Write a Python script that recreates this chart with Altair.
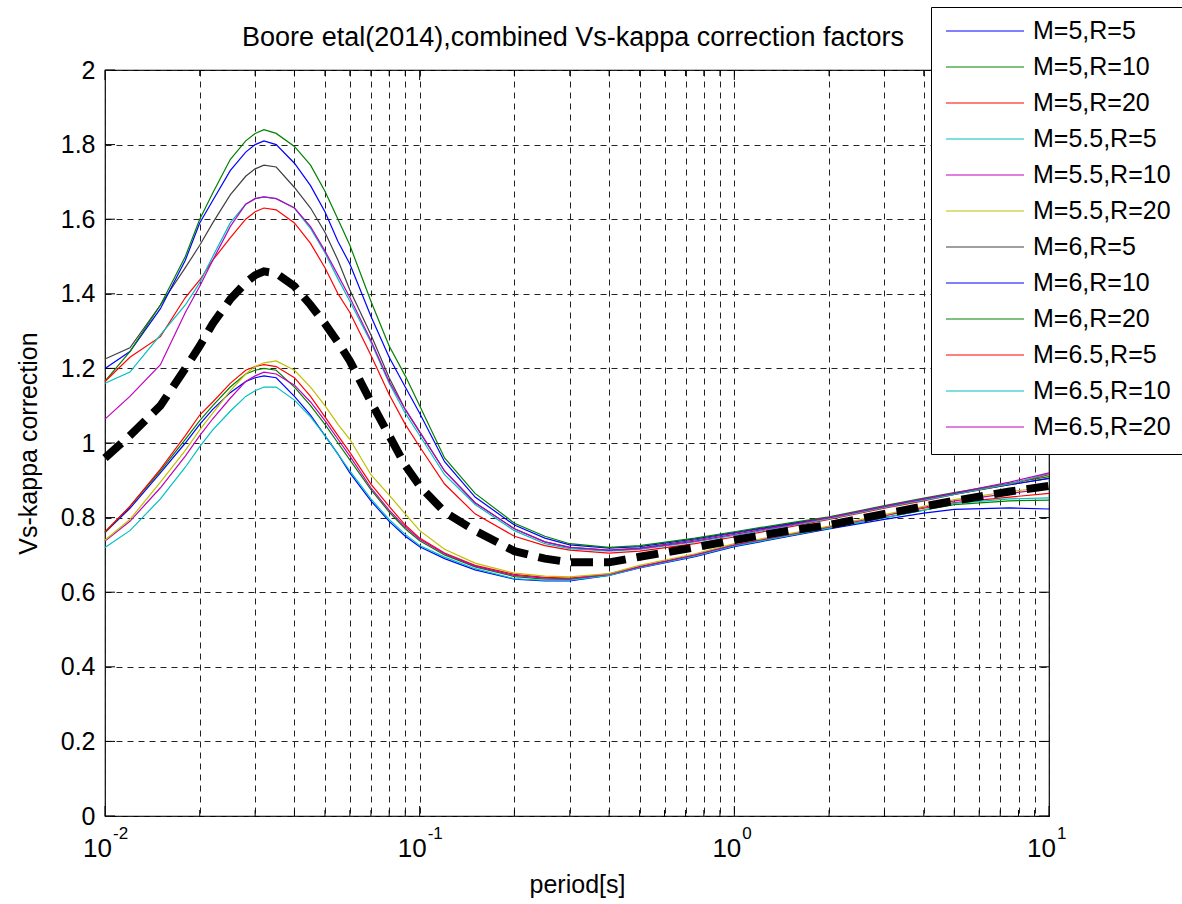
import altair as alt
import pandas as pd

FONT = "Liberation Sans"

title_text = ["Boore etal(2014),combined Vs-kappa correction factors"]

period = [0.01, 0.012, 0.015, 0.018, 0.02, 0.022, 0.025, 0.028, 0.03, 0.032, 0.035,
          0.04, 0.045, 0.05, 0.055, 0.06, 0.07, 0.08, 0.09, 0.1, 0.12, 0.15, 0.2,
          0.25, 0.3, 0.4, 0.5, 0.75, 1, 1.5, 2, 3, 4, 5, 7.5, 10]

series_names = ["M=5,R=5", "M=5,R=10", "M=5,R=20", "M=5.5,R=5", "M=5.5,R=10", "M=5.5,R=20",
                "M=6,R=5", "M=6,R=10", "M=6,R=20", "M=6.5,R=5", "M=6.5,R=10", "M=6.5,R=20"]
series_colors = ["#0000FF", "#008000", "#FF0000", "#00BFBF", "#BF00BF", "#BFBF00",
                 "#404040", "#0000FF", "#008000", "#FF0000", "#00BFBF", "#BF00BF"]

m5_r5 = [0.76, 0.825, 0.92, 1.0, 1.05, 1.09, 1.135, 1.165, 1.175, 1.18, 1.175, 1.125, 1.075, 1.02,
         0.97, 0.92, 0.845, 0.79, 0.75, 0.722, 0.69, 0.66, 0.635, 0.63, 0.63, 0.645, 0.665, 0.695,
         0.722, 0.75, 0.77, 0.795, 0.812, 0.822, 0.826, 0.823]
m5_r10 = [0.76, 0.83, 0.925, 1.01, 1.06, 1.10, 1.15, 1.185, 1.195, 1.20, 1.195, 1.15, 1.10, 1.05,
          1.0, 0.955, 0.875, 0.815, 0.77, 0.738, 0.70, 0.668, 0.642, 0.635, 0.634, 0.647, 0.667,
          0.698, 0.725, 0.752, 0.772, 0.80, 0.82, 0.835, 0.845, 0.847]
m5_r20 = [0.762, 0.83, 0.93, 1.02, 1.075, 1.11, 1.16, 1.195, 1.205, 1.21, 1.205, 1.175, 1.125, 1.07,
          1.02, 0.975, 0.89, 0.83, 0.78, 0.745, 0.705, 0.672, 0.648, 0.64, 0.638, 0.649, 0.669,
          0.70, 0.727, 0.755, 0.775, 0.805, 0.825, 0.84, 0.855, 0.865]
m55_r5 = [0.72, 0.765, 0.85, 0.935, 0.99, 1.035, 1.085, 1.125, 1.14, 1.15, 1.15, 1.115, 1.07, 1.02,
          0.97, 0.925, 0.85, 0.795, 0.755, 0.725, 0.694, 0.663, 0.636, 0.632, 0.632, 0.645, 0.666,
          0.697, 0.724, 0.752, 0.772, 0.80, 0.82, 0.838, 0.85, 0.853]
m55_r10 = [0.737, 0.79, 0.88, 0.965, 1.02, 1.065, 1.12, 1.165, 1.18, 1.19, 1.185, 1.155, 1.11, 1.06,
           1.01, 0.965, 0.88, 0.82, 0.775, 0.742, 0.703, 0.67, 0.645, 0.638, 0.636, 0.648, 0.668,
           0.70, 0.727, 0.755, 0.775, 0.805, 0.828, 0.845, 0.865, 0.878]
m55_r20 = [0.74, 0.795, 0.895, 0.98, 1.035, 1.08, 1.14, 1.185, 1.205, 1.215, 1.22, 1.195, 1.15, 1.10,
           1.05, 1.01, 0.915, 0.86, 0.81, 0.765, 0.715, 0.678, 0.651, 0.643, 0.641, 0.65, 0.672,
           0.703, 0.73, 0.757, 0.777, 0.808, 0.83, 0.848, 0.87, 0.882]
m6_r5 = [1.225, 1.255, 1.37, 1.47, 1.53, 1.59, 1.665, 1.715, 1.735, 1.745, 1.74, 1.685, 1.63, 1.565,
         1.49, 1.41, 1.29, 1.175, 1.09, 1.03, 0.925, 0.84, 0.77, 0.735, 0.72, 0.713, 0.718, 0.74,
         0.758, 0.782, 0.80, 0.828, 0.848, 0.862, 0.888, 0.905]
m6_r10 = [1.20, 1.245, 1.36, 1.49, 1.59, 1.65, 1.73, 1.78, 1.80, 1.81, 1.80, 1.75, 1.69, 1.62,
          1.54, 1.48, 1.34, 1.23, 1.15, 1.08, 0.95, 0.855, 0.78, 0.745, 0.727, 0.718, 0.722, 0.743,
          0.76, 0.784, 0.80, 0.83, 0.85, 0.865, 0.888, 0.905]
m6_r20 = [1.166, 1.245, 1.37, 1.50, 1.60, 1.67, 1.76, 1.81, 1.83, 1.84, 1.83, 1.795, 1.745, 1.675,
          1.60, 1.53, 1.38, 1.26, 1.18, 1.10, 0.96, 0.865, 0.785, 0.75, 0.73, 0.72, 0.725, 0.745,
          0.762, 0.786, 0.802, 0.832, 0.852, 0.867, 0.892, 0.91]
m65_r5 = [1.165, 1.23, 1.285, 1.39, 1.437, 1.49, 1.55, 1.60, 1.62, 1.63, 1.625, 1.59, 1.535, 1.47,
          1.40, 1.35, 1.235, 1.13, 1.05, 0.99, 0.89, 0.81, 0.75, 0.725, 0.713, 0.705, 0.71, 0.73,
          0.748, 0.775, 0.795, 0.825, 0.845, 0.862, 0.89, 0.915]
m65_r10 = [1.16, 1.19, 1.29, 1.37, 1.43, 1.50, 1.59, 1.64, 1.655, 1.66, 1.655, 1.63, 1.575, 1.51,
           1.44, 1.38, 1.27, 1.16, 1.08, 1.02, 0.915, 0.835, 0.765, 0.73, 0.717, 0.71, 0.715, 0.735,
           0.752, 0.778, 0.797, 0.827, 0.847, 0.862, 0.89, 0.918]
m65_r20 = [1.064, 1.125, 1.21, 1.35, 1.42, 1.49, 1.58, 1.64, 1.655, 1.66, 1.655, 1.63, 1.58, 1.515,
           1.45, 1.39, 1.275, 1.165, 1.09, 1.03, 0.925, 0.84, 0.77, 0.735, 0.72, 0.712, 0.717, 0.737,
           0.755, 0.78, 0.80, 0.83, 0.85, 0.866, 0.895, 0.92]

mean_curve = [0.96, 1.02, 1.10, 1.20, 1.26, 1.32, 1.385, 1.43, 1.45, 1.46, 1.455, 1.42, 1.37, 1.32,
              1.27, 1.22, 1.11, 1.02, 0.94, 0.885, 0.815, 0.765, 0.71, 0.69, 0.68, 0.68, 0.695, 0.72,
              0.74, 0.765, 0.78, 0.81, 0.83, 0.845, 0.87, 0.885]

x_major = [0.01, 0.1, 1, 10]
x_minor = [0.02, 0.03, 0.04, 0.05, 0.06, 0.07, 0.08, 0.09,
           0.2, 0.3, 0.4, 0.5, 0.6, 0.7, 0.8, 0.9,
           2, 3, 4, 5, 6, 7, 8, 9]
x_base_labels = ["10", "10", "10", "10"]
x_exp_labels = ["-2", "-1", "0", "1"]
y_ticks = [0, 0.2, 0.4, 0.6, 0.8, 1.0, 1.2, 1.4, 1.6, 1.8, 2.0]

all_series = [m5_r5, m5_r10, m5_r20, m55_r5, m55_r10, m55_r20,
              m6_r5, m6_r10, m6_r20, m65_r5, m65_r10, m65_r20]

rows = []
for name, vals in zip(series_names, all_series):
    for t, v in zip(period, vals):
        rows.append({"period": t, "value": v, "series": name})
df = pd.DataFrame(rows)
mean_df = pd.DataFrame({"period": period, "value": mean_curve})
major_df = pd.DataFrame({"period": x_major, "base": x_base_labels, "exp": x_exp_labels})
minor_df = pd.DataFrame({"period": x_minor})
ytick_df = pd.DataFrame({"value": y_ticks})
title_df = pd.DataFrame({"t": title_text})

W, H = 944, 746
GRID_DASH = [6, 5]

x_scale = alt.Scale(type="log", domain=[0.01, 10], nice=False)
y_scale = alt.Scale(domain=[0, 2], nice=False, zero=False)

x_axis = alt.Axis(values=sorted(x_major + x_minor), labels=False, ticks=False, domain=False,
                  grid=True, gridDash=GRID_DASH, gridColor="#222222", gridWidth=1,
                  title="period[s]", titleFontSize=25, titleFont=FONT, titleFontWeight="normal",
                  titleColor="black", titleX=W / 2, titleY=68, titleBaseline="middle",
                  titleAlign="center")
y_axis = alt.Axis(values=y_ticks, format=".1~f", labelFontSize=25, labelFont=FONT,
                  labelColor="black", labelPadding=10, ticks=False, domain=False,
                  grid=True, gridDash=GRID_DASH, gridColor="#222222", gridWidth=1,
                  title="Vs-kappa correction", titleFontSize=25, titleFont=FONT,
                  titleFontWeight="normal", titleColor="black", titleAngle=270,
                  titleX=-77, titleY=H / 2, titleBaseline="middle", titleAlign="center")


def X():
    return alt.X("period:Q", scale=x_scale, axis=x_axis)


def Y():
    return alt.Y("value:Q", scale=y_scale, axis=y_axis)


legend = alt.Legend(title=None, orient="none", legendX=826, legendY=-63,
                    symbolType="stroke", symbolSize=6084, symbolStrokeWidth=1.2,
                    clipHeight=20, rowPadding=11, labelFontSize=25, labelFont=FONT,
                    labelColor="black", labelOffset=8, padding=14, strokeColor="black",
                    fillColor="white", labelLimit=300, zindex=1)

lines = alt.Chart(df).mark_line(strokeWidth=1.2).encode(
    x=X(), y=Y(),
    color=alt.Color("series:N", scale=alt.Scale(domain=series_names, range=series_colors),
                    legend=legend, sort=series_names),
)

mean_line = alt.Chart(mean_df).mark_line(color="black", strokeWidth=8, strokeDash=[22, 11],
                                         strokeCap="butt").encode(x=X(), y=Y())

tick_major_bottom = alt.Chart(major_df).mark_rule(color="black", strokeWidth=1).encode(
    x=X(), y=alt.value(H), y2=alt.value(H - 10))
tick_major_top = alt.Chart(major_df).mark_rule(color="black", strokeWidth=1).encode(
    x=X(), y=alt.value(0), y2=alt.value(10))
tick_minor_bottom = alt.Chart(minor_df).mark_rule(color="black", strokeWidth=1).encode(
    x=X(), y=alt.value(H), y2=alt.value(H - 6))
tick_minor_top = alt.Chart(minor_df).mark_rule(color="black", strokeWidth=1).encode(
    x=X(), y=alt.value(0), y2=alt.value(6))
tick_left = alt.Chart(ytick_df).mark_rule(color="black", strokeWidth=1).encode(
    y=Y(), x=alt.value(0), x2=alt.value(10))
tick_right = alt.Chart(ytick_df).mark_rule(color="black", strokeWidth=1).encode(
    y=Y(), x=alt.value(W), x2=alt.value(W - 10))

base_text = alt.Chart(major_df).mark_text(align="right", baseline="middle", dx=7,
                                          fontSize=26, font=FONT, color="black").encode(
    x=X(), y=alt.value(779), text="base:N")
exp_text = alt.Chart(major_df).mark_text(align="left", baseline="middle", dx=8,
                                         fontSize=17, font=FONT, color="black").encode(
    x=X(), y=alt.value(764), text="exp:N")

title_mark = alt.Chart(title_df).mark_text(align="center", baseline="middle", fontSize=27,
                                           font=FONT, color="black").encode(
    x=alt.value(W / 2 - 4), y=alt.value(-32), text="t:N")

chart = alt.layer(
    lines, mean_line,
    tick_major_bottom, tick_major_top, tick_minor_bottom, tick_minor_top,
    tick_left, tick_right, base_text, exp_text, title_mark,
).properties(
    width=W, height=H,
    padding={"left": 105, "top": 70, "right": 133, "bottom": 88},
    autosize=alt.AutoSizeParams(type="none"),
).configure(
    font=FONT, background="white",
).configure_view(
    stroke="black", strokeWidth=1.2,
)

chart.save("out.html", embed_options={"renderer": "svg", "actions": False})
